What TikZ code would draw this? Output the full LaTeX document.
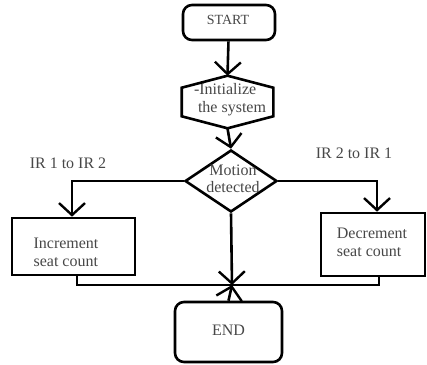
\documentclass[tikz,border=0pt]{standalone}
\usepackage{fontspec}
\setmainfont{Liberation Serif}
\usetikzlibrary{arrows.meta,shapes.geometric,calc}
\begin{document}
\begin{tikzpicture}[x=1pt, y=-1pt, line width=2.6pt,
  txt/.style={text=black!72, font=\fontsize{16}{18}\selectfont, align=left, inner sep=0pt},
  term/.style={draw, rounded corners=9pt, inner sep=0pt},
  procbox/.style={draw, inner sep=0pt},
  arr/.style={-{Straight Barb[length=12pt, width=26pt, line width=2.4pt]}}]
\useasboundingbox (0,0) rectangle (427,364);
% terminals
\node[term, minimum width=92pt, minimum height=35pt] (start) at (229,22.5) {};
\node[txt, font=\fontsize{14}{16}\selectfont] (starttxt) at (228,20) {START};
\node[term, minimum width=107pt, minimum height=60pt] (end) at (228.5,332) {};
\node[txt] (endtxt) at (228.5,330) {END};
% init hexagon
\node[txt, minimum width=89pt, minimum height=50pt] (init) at (227.5,102) {};
\node[txt] (inittxt) at (230,100) {-Initialize\\\ the system};
\draw (init.north) -- ($(init.north east)+(0,12)$) -- ($(init.south east)+(0,-12)$)
  -- (init.south) -- ($(init.south west)+(0,-12)$) -- ($(init.north west)+(0,12)$) -- cycle;
% decision
\node[diamond, draw, minimum width=92pt, minimum height=62pt, inner sep=0pt] (motion) at (231,181) {};
\node[txt, align=center, font=\fontsize{16}{17}\selectfont] (motiontxt) at (233,179) {Motion\\detected};
% process boxes
\node[procbox, minimum width=123pt, minimum height=57pt] (inc) at (73.5,246.5) {};
\node[txt] (inctxt) at (66,252) {Increment\\seat count};
\node[procbox, minimum width=104pt, minimum height=63pt] (dec) at (373,244.5) {};
\node[txt] (dectxt) at (372,242) {Decrement\\seat count};
% branch labels
\node[txt] (lblleft) at (68,163) {IR 1 to IR 2};
\node[txt] (lblright) at (354,153) {IR 2 to IR 1};
\coordinate (join) at (232,285);
% connectors
\draw[arr] (start) -- (init.north);
\draw[arr] (init.south) -- (motion.north);
\draw[arr] (motion.west) -- (72,181) -- (inc.north -| 72,0);
\draw[arr] (motion.east) -- (377,181) -- (dec.north -| 377,0);
\draw[arr] (motion.south) -- (join);
\draw (inc.south -| 77,0) -- (77,285) -- (join);
\draw (dec.south -| 379,0) -- (379,285) -- (join);
\draw[{Straight Barb[length=12pt, width=26pt, line width=2.4pt]}-] (join) -- (end.north);
\end{tikzpicture}
\end{document}
